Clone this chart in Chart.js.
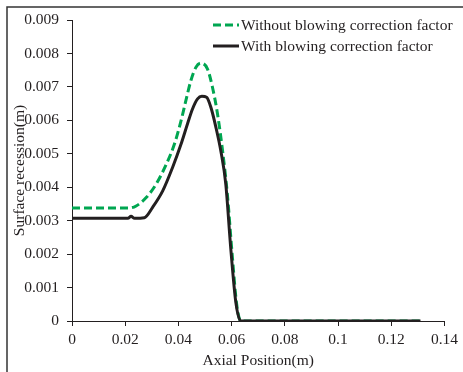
<!DOCTYPE html>
<html>
<head>
<meta charset="utf-8">
<script src="https://cdn.jsdelivr.net/npm/chart.js@4.4.1/dist/chart.umd.min.js"></script>
<style>
  html, body { margin: 0; padding: 0; background: #fff; }
  #wrap { width: 463px; height: 372px; position: relative; }
</style>
</head>
<body>
<div id="wrap"><canvas id="my-chart"></canvas></div>
<script>
'use strict';

// values (x in m, y in m)
const withoutX = [0, 0.010, 0.0216, 0.0241, 0.0279, 0.0316, 0.0354, 0.0385, 0.0410, 0.0428, 0.0447, 0.0466, 0.0485, 0.0509, 0.0528, 0.0547, 0.0566, 0.0584, 0.0602, 0.0619, 0.0635, 0.08, 0.131];
const withoutY = [0.00338, 0.00338, 0.00338, 0.00344, 0.00369, 0.00409, 0.00468, 0.00529, 0.00599, 0.00659, 0.00719, 0.00759, 0.00771, 0.00754, 0.00699, 0.00619, 0.00509, 0.00379, 0.0020, 0.0005, 0, 0, 0];

const withX = [0, 0.021, 0.0222, 0.0235, 0.0272, 0.0303, 0.0341, 0.0378, 0.0410, 0.0434, 0.0453, 0.0472, 0.0488, 0.0506, 0.0522, 0.0541, 0.0560, 0.0578, 0.0597, 0.0616, 0.0634, 0.08, 0.131];
const withY = [0.00307, 0.00307, 0.00313, 0.00307, 0.00309, 0.00340, 0.00389, 0.00459, 0.00529, 0.00589, 0.00634, 0.00664, 0.00672, 0.00669, 0.00639, 0.00579, 0.00506, 0.00410, 0.00215, 0.00055, 0, 0, 0];

const seriesNames = ['Without blowing correction factor', 'With blowing correction factor'];
const xTicks = [0, 0.02, 0.04, 0.06, 0.08, 0.1, 0.12, 0.14];
const yTicks = [0, 0.001, 0.002, 0.003, 0.004, 0.005, 0.006, 0.007, 0.008, 0.009];

const FONT = "'Liberation Serif', 'Times New Roman', serif";
const FSIZE = 15.5;
const INK = '#231f20';
const GREEN = '#00a651';

function toPoints(xs, ys) {
  let pts = [];
  for (let i = 0; i < xs.length; i++) {
    pts.push({ x: xs[i], y: ys[i] });
  }
  return pts;
}

function fmt(v) {
  return String(+v.toFixed(4));
}

// outer frame + legend inside the plot
const framePlugin = {
  id: 'frame',
  afterDraw(chart) {
    const ctx = chart.ctx;
    ctx.save();
    ctx.strokeStyle = '#333';
    ctx.lineWidth = 1.5;
    ctx.beginPath();
    ctx.moveTo(7, 372);
    ctx.lineTo(7, 7);
    ctx.lineTo(463, 7);
    ctx.stroke();

    // legend
    ctx.font = FSIZE + 'px ' + FONT;
    ctx.textBaseline = 'middle';
    ctx.fillStyle = INK;
    const rows = [25, 46];
    chart.data.datasets.forEach(function (ds, i) {
      ctx.strokeStyle = ds.borderColor;
      ctx.lineWidth = ds.borderWidth;
      ctx.setLineDash(ds.borderDash || []);
      ctx.beginPath();
      ctx.moveTo(213, rows[i]);
      ctx.lineTo(239, rows[i]);
      ctx.stroke();
      ctx.setLineDash([]);
      ctx.fillText(ds.label, 241, rows[i] + 1);
    });
    ctx.restore();
  }
};

let ctx = document.getElementById('my-chart').getContext('2d');

let recessionChart = new Chart(ctx, {
  type: 'line',
  data: {
    datasets: [{
      label: seriesNames[0],
      data: toPoints(withoutX, withoutY),
      borderColor: GREEN,
      borderWidth: 3,
      borderDash: [8, 4],
      pointRadius: 0,
      cubicInterpolationMode: 'monotone',
      order: 2,
    }, {
      label: seriesNames[1],
      data: toPoints(withX, withY),
      borderColor: INK,
      borderWidth: 3,
      pointRadius: 0,
      cubicInterpolationMode: 'monotone',
      order: 1,
    }],
  },
  options: {
    responsive: true,
    maintainAspectRatio: false,
    animation: false,
    layout: { padding: { left: 0, right: 17, top: 20, bottom: 0 } },
    plugins: {
      legend: { display: false },
      tooltip: { enabled: false },
    },
    scales: {
      x: {
        type: 'linear',
        min: 0,
        max: 0.14,
        afterBuildTicks: function (scale) {
          scale.ticks = xTicks.map(function (v) { return { value: v }; });
        },
        afterFit: function (scale) { scale.height = 51; },
        grid: { drawOnChartArea: false, tickLength: 5, color: INK },
        border: { color: INK, width: 1 },
        ticks: {
          color: INK,
          padding: 5,
          maxRotation: 0,
          font: { family: FONT, size: FSIZE },
          callback: fmt,
        },
        title: {
          display: true,
          text: 'Axial Position(m)',
          color: INK,
          font: { family: FONT, size: FSIZE },
          padding: { top: 0, bottom: 2 },
        },
      },
      y: {
        type: 'linear',
        min: 0,
        max: 0.009,
        afterBuildTicks: function (scale) {
          scale.ticks = yTicks.map(function (v) { return { value: v }; });
        },
        afterFit: function (scale) { scale.width = 72; },
        grid: { drawOnChartArea: false, tickLength: 5, color: INK },
        border: { color: INK, width: 1 },
        ticks: {
          color: INK,
          padding: 8,
          font: { family: FONT, size: FSIZE },
          callback: fmt,
        },
        title: {
          display: true,
          text: 'Surface recession(m)',
          color: INK,
          font: { family: FONT, size: FSIZE },
          padding: { top: 11, bottom: 0 },
        },
      },
    },
  },
  plugins: [framePlugin],
});
</script>
</body>
</html>
